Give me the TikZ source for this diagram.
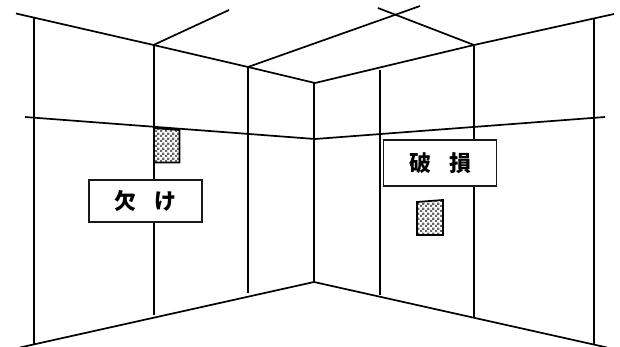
\documentclass[tikz,border=0pt]{standalone}
\usepackage{fontspec}
\usetikzlibrary{patterns}
\newfontfamily\jpfont{Noto Sans CJK JP Black}
\newcommand{\tagtext}{\jpfont\fontsize{22}{24}\selectfont\setlength{\spaceskip}{18pt}}
\pgfdeclarepatternformonly{finecheck}{\pgfqpoint{0pt}{0pt}}{\pgfqpoint{5pt}{5pt}}{\pgfqpoint{5pt}{5pt}}{%
  \pgfpathrectangle{\pgfqpoint{0pt}{0pt}}{\pgfqpoint{2.5pt}{2.5pt}}%
  \pgfpathrectangle{\pgfqpoint{2.5pt}{2.5pt}}{\pgfqpoint{2.5pt}{2.5pt}}%
  \pgfusepath{fill}}
\tikzset{
  wall/.style={draw=black,line width=1.7pt},
  patch/.style={draw=black,line width=1.8pt,pattern=finecheck,pattern color=black!60},
  tag/.style={draw=black!90,line width=1.7pt,fill=white,inner sep=0pt,minimum height=42pt,minimum width=113pt}
}
\begin{document}
\begin{tikzpicture}[x=1pt,y=-1pt]
\useasboundingbox (0,0) rectangle (620,347);
% ceiling
\draw[wall] (16,13.5) -- (153.5,45) -- (248,67) -- (315,83) -- (474,45) -- (614,14);
\draw[wall] (153.5,45) -- (229,10);
\draw[wall] (248,67) -- (420,6);
\draw[wall] (474,45) -- (378,8);
% verticals
\draw[wall] (34,18) -- (34,345);
\draw[wall] (154,45) -- (154,315);
\draw[wall] (248,67) -- (248,293);
\draw[wall] (314,82) -- (314,282);
\draw[wall] (380,70) -- (380,295);
\draw[wall] (474,45) -- (474,317);
\draw[wall] (594,18) -- (594,345);
% rail
\draw[wall] (25,117) -- (315,139) -- (605,117);
% floor
\draw[wall] (20,347.5) -- (314,282) -- (607,347.5);
% patches
\draw[patch] (154,128) -- (179.5,130) -- (179.5,162.5) -- (154,162.5) -- cycle;
\draw[patch] (417,202) -- (443,200) -- (443,235) -- (417,235) -- cycle;
% labels
\node[tag] (kake) at (145.5,201) {\tagtext 欠 け};
\node[tag,minimum height=46pt] (hason) at (440,163) {\tagtext 破 損};
\end{tikzpicture}
\end{document}
